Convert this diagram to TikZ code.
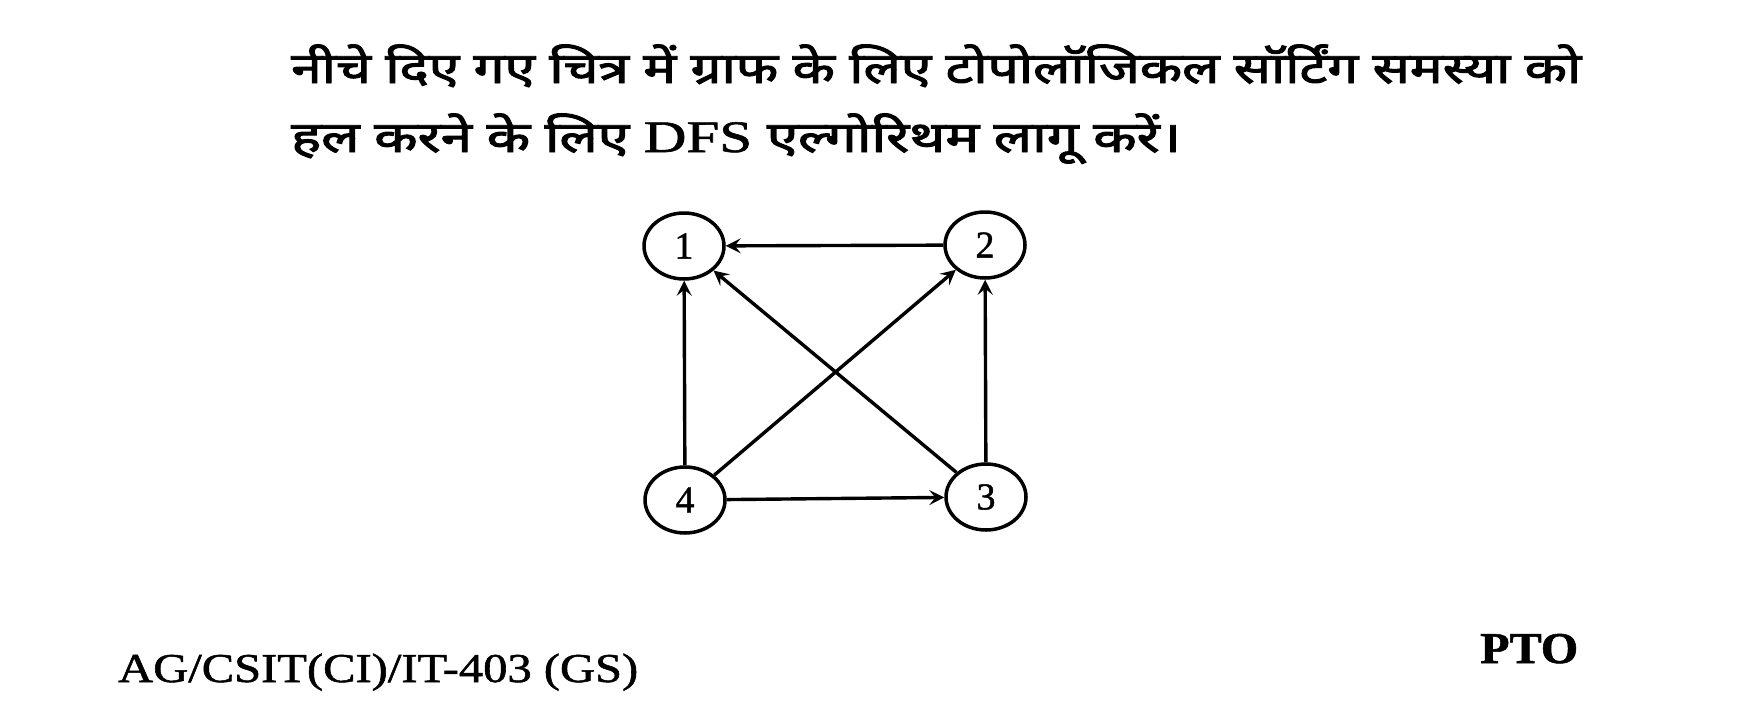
\documentclass[tikz,border=0pt]{standalone}
\usepackage{fontspec}
\usepackage{graphicx}
\setmainfont{Liberation Serif}
\newfontfamily\hindifont[Script=Devanagari,FakeBold=2.2]{Noto Sans}
\newfontfamily\serifbold[FakeBold=1.2]{Liberation Serif}
\usetikzlibrary{arrows.meta,shapes.geometric}
\tikzset{
  vtx/.style={draw, line width=3.5pt, ellipse, minimum width=80pt, minimum height=66pt, inner sep=0pt, font=\serifbold\fontsize{38}{38}\selectfont},
  edge/.style={line width=3.4pt, -{Stealth[length=15pt,width=15pt,inset=6pt]}},
  hline/.style={anchor=base west, inner sep=0pt, font=\hindifont\fontsize{43}{48}\selectfont},
  foot/.style={inner sep=0pt, font=\serifbold\fontsize{41}{41}\selectfont}
}
\begin{document}
\begin{tikzpicture}[x=1pt,y=-1pt]
\useasboundingbox[fill=white] (0,0) rectangle (1740,718);
\node[hline] (l1) at (291,83) {\resizebox{1290pt}{\height}{नीचे दिए गए चित्र में ग्राफ के लिए टोपोलॉजिकल सॉर्टिंग समस्या को}};
\node[hline] (l2) at (291,152) {\resizebox{890pt}{\height}{हल करने के लिए {\serifbold\fontsize{45}{48}\selectfont DFS} एल्गोरिथम लागू करें।}};
\node[vtx] (n1) at (684,246) {1};
\node[vtx] (n2) at (985,245) {2};
\node[vtx] (n3) at (986,497) {3};
\node[vtx] (n4) at (685,500) {4};
\draw[edge] (n2) -- (n1);
\draw[edge] (n4) -- (n1);
\draw[edge] (n3) -- (n1);
\draw[edge] (n4) -- (n2);
\draw[edge] (n3) -- (n2);
\draw[edge] (n4) -- (n3);
\node[foot, anchor=base west] (code) at (118,682) {\resizebox{520pt}{\height}{AG/CSIT(CI)/IT-403 (GS)}};
\node[foot, anchor=base west] (pto) at (1480,663) {\resizebox{98pt}{\height}{\bfseries\fontsize{44}{44}\selectfont PTO}};
\end{tikzpicture}
\end{document}
